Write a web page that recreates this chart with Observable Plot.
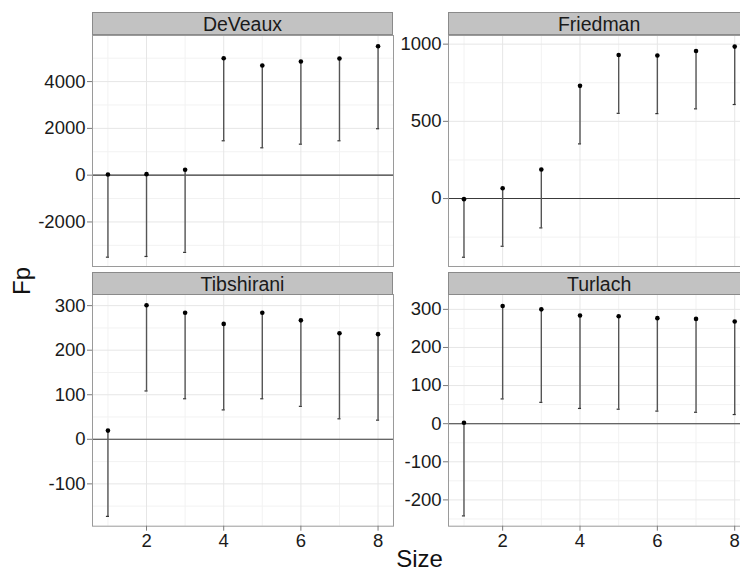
<!DOCTYPE html>
<html>
<head>
<meta charset="utf-8">
<script src="https://cdn.jsdelivr.net/npm/d3@7"></script>
<script src="https://cdn.jsdelivr.net/npm/@observablehq/plot@0.6"></script>
<style>
  html, body { margin: 0; padding: 0; background: #fff; overflow: hidden; }
  #chart { position: relative; width: 740px; height: 571px; overflow: hidden; font-family: "Liberation Sans", Arial, sans-serif; }
  .strip { position: absolute; box-sizing: border-box; background: #c2c2c2; border: 1px solid #8a8a8a;
           font-size: 19.5px; color: #1a1a1a; text-align: center; line-height: 22px; }
  .panel { position: absolute; }
  .title { position: absolute; font-size: 24px; line-height: 24px; color: #111; white-space: nowrap; }
</style>
</head>
<body>
<div id="chart"></div>
<script>
// ---- data ----
const sizes = [1, 2, 3, 4, 5, 6, 7, 8];
const panelNames = ["DeVeaux", "Friedman", "Tibshirani", "Turlach"];

const deveauxHi = [30, 43, 230, 5000, 4690, 4860, 4990, 5510];
const deveauxLo = [-3505, -3475, -3300, 1470, 1170, 1325, 1470, 1985];

const friedmanHi = [-4, 67, 188, 730, 930, 926, 956, 984];
const friedmanLo = [-380, -309, -190, 354, 552, 550, 581, 609];

const tibshiraniHi = [19.5, 301, 284, 259, 284, 267, 238, 236];
const tibshiraniLo = [-173, 108.5, 91, 66, 91, 74, 46, 43];

const turlachHi = [2.6, 309, 300, 284, 282, 277, 275, 268];
const turlachLo = [-242, 65, 56, 40, 38, 33, 30, 24];

const xTicks = [2, 4, 6, 8];
const xMinor = [1, 3, 5, 7];

const deveauxTicks = [-2000, 0, 2000, 4000];
const friedmanTicks = [0, 500, 1000];
const tibshiraniTicks = [-100, 0, 100, 200, 300];
const turlachTicks = [-200, -100, 0, 100, 200, 300];

const deveauxMinor = [-3000, -1000, 1000, 3000, 5000];
const friedmanMinor = [-250, 250, 750];
const tibshiraniMinor = [-150, -50, 50, 150, 250];
const turlachMinor = [-250, -150, -50, 50, 150, 250];

const yLabel = "Fp";
const xLabel = "Size";

// ---- layout ----
const panels = [
  {name: panelNames[0], hi: deveauxHi, lo: deveauxLo, ticks: deveauxTicks, minor: deveauxMinor, domain: [-3904, 5970],
   x0: 92, x1: 393, y0: 35, y1: 266, s0: 12.3, bottom: false, ml: 92},
  {name: panelNames[1], hi: friedmanHi, lo: friedmanLo, ticks: friedmanTicks, minor: friedmanMinor, domain: [-440, 1056],
   x0: 448.3, x1: 750, y0: 35, y1: 266, s0: 12.3, bottom: false, ml: 60},
  {name: panelNames[2], hi: tibshiraniHi, lo: tibshiraniLo, ticks: tibshiraniTicks, minor: tibshiraniMinor, domain: [-195, 325],
   x0: 92, x1: 393, y0: 294.3, y1: 526, s0: 271.7, bottom: true, ml: 92},
  {name: panelNames[3], hi: turlachHi, lo: turlachLo, ticks: turlachTicks, minor: turlachMinor, domain: [-269, 339],
   x0: 448.3, x1: 750, y0: 294.3, y1: 526, s0: 271.7, bottom: true, ml: 60}
];

const chart = document.getElementById("chart");
const font = "'Liberation Sans', Arial, sans-serif";
const fmt = d => String(d);
const tickFont = 18.5;

for (const p of panels) {
  const data = sizes.map((s, i) => ({size: s, hi: p.hi[i], lo: p.lo[i]}));
  const mt = 12, mr = 10, mb = p.bottom ? 30 : 12;
  const w = p.ml + (p.x1 - p.x0) + mr;
  const h = mt + (p.y1 - p.y0) + mb;
  const marks = [
    Plot.gridX(xMinor, {stroke: "#f2f2f2", strokeOpacity: 1}),
    Plot.gridY(p.minor, {stroke: "#f2f2f2", strokeOpacity: 1}),
    Plot.gridX(xTicks, {stroke: "#e6e6e6", strokeOpacity: 1}),
    Plot.gridY(p.ticks, {stroke: "#e6e6e6", strokeOpacity: 1}),
    Plot.ruleY([0], {stroke: "#3a3a3a", strokeWidth: 1.1}),
    Plot.ruleX(data, {x: "size", y1: "lo", y2: "hi", stroke: "#555", strokeWidth: 1.4}),
    Plot.ruleY(data, {y: "lo", x1: d => d.size - 0.04, x2: d => d.size + 0.04, stroke: "#333", strokeWidth: 1.2}),
    Plot.dot(data, {x: "size", y: "hi", r: 2.3, fill: "#000", stroke: "none"}),
    Plot.frame({stroke: "#9a9a9a"}),
    Plot.axisY(p.ticks, {tickSize: 5, tickPadding: 2, stroke: "#7a7a7a", fill: "#1a1a1a", fontSize: tickFont,
                         tickFormat: fmt, label: null})
  ];
  if (p.bottom) {
    marks.push(Plot.axisX(xTicks, {tickSize: 5, tickPadding: 3, stroke: "#7a7a7a", fill: "#1a1a1a", fontSize: tickFont,
                                   tickFormat: fmt, label: null}));
  }
  const svg = Plot.plot({
    width: w, height: h,
    marginLeft: p.ml, marginRight: mr, marginTop: mt, marginBottom: mb,
    x: {domain: [0.6, 8.4], axis: p.bottom ? undefined : null, label: null},
    y: {domain: p.domain, label: null},
    style: {fontFamily: font, fontSize: tickFont + "px", background: "transparent", overflow: "visible", color: "#1a1a1a"},
    marks
  });
  svg.classList.add("panel");
  svg.style.left = (p.x0 - p.ml) + "px";
  svg.style.top = (p.y0 - mt) + "px";
  chart.appendChild(svg);

  const strip = document.createElement("div");
  strip.className = "strip";
  strip.style.left = p.x0 + "px";
  strip.style.top = p.s0 + "px";
  strip.style.width = (p.x1 - p.x0) + "px";
  strip.style.height = (p.y0 - p.s0 + 0.5) + "px";
  strip.textContent = p.name;
  chart.appendChild(strip);
}

// axis titles
const yt = document.createElement("div");
yt.className = "title";
yt.textContent = yLabel;
yt.style.left = "22px";
yt.style.top = "281px";
yt.style.transform = "translate(-50%, -50%) rotate(-90deg)";
chart.appendChild(yt);

const xt = document.createElement("div");
xt.className = "title";
xt.textContent = xLabel;
xt.style.left = "419.5px";
xt.style.top = "547px";
xt.style.transform = "translateX(-50%)";
chart.appendChild(xt);
</script>
</body>
</html>
